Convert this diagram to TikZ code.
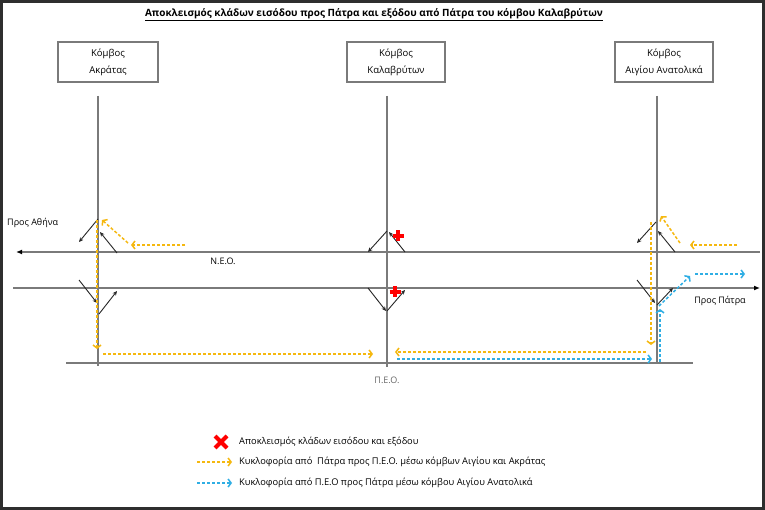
\documentclass[tikz,border=0pt]{standalone}
\usepackage{fontspec}
\setmainfont{Open Sans}
\usetikzlibrary{arrows.meta,calc}
\definecolor{roadc}{HTML}{7A7A7A}
\definecolor{ylw}{HTML}{F5B80F}
\definecolor{blu}{HTML}{2FAEE4}
\definecolor{framec}{HTML}{2E2E2E}
\begin{document}
\begin{tikzpicture}[x=1pt,y=-1pt,
  road/.style={draw=roadc, line width=1.4pt},
  ramp/.style={draw=black!85, line width=0.9pt, -{Stealth[length=4.5pt,width=4pt]}},
  ypath/.style={draw=ylw, line width=1.5pt, dash pattern=on 3pt off 2pt, -{Straight Barb[length=3pt,width=8pt,line width=1.5pt]}},
  bpath/.style={draw=blu, line width=1.5pt, dash pattern=on 3pt off 2pt, -{Straight Barb[length=3pt,width=8pt,line width=1.5pt]}},
  boxnode/.style={draw=roadc, line width=1.1pt, minimum width=100pt, minimum height=40pt, align=center, inner sep=0pt, font=\fontsize{9.5}{17}\selectfont},
  lbl/.style={font=\fontsize{9}{11}\selectfont, inner sep=0pt},
  legtext/.style={anchor=west, font=\fontsize{9.3}{11}\selectfont, inner sep=0pt},
  blockplus/.pic={\draw[red, line width=3.6pt] (-5.5,0)--(5.5,0) (0,-5.5)--(0,5.5);},
  blockx/.pic={\draw[red, line width=4pt] (-6,-6)--(6,6) (-6,6)--(6,-6);}
]
\useasboundingbox (0,0) rectangle (765,510);
\fill[white] (0,0) rectangle (765,510);
\draw[framec, line width=3pt] (1.5,1.5) rectangle (763.5,508.5);

% title
\node[inner sep=0pt, font=\fontsize{10}{12}\selectfont\bfseries] (title) at (374,15)
  {\underline{Αποκλεισμός κλάδων εισόδου προς Πάτρα και εξόδου από Πάτρα του κόμβου Καλαβρύτων}};

% junction boxes
\node[boxnode] (akr) at (108,62) {Κόμβος\\Ακράτας};
\node[boxnode, minimum width=98pt] (kal) at (396,62) {Κόμβος\\Καλαβρύτων};
\node[boxnode, minimum width=98pt] (aig) at (664,62) {Κόμβος\\Αιγίου Ανατολικά};

% road coordinates
\coordinate (akrT) at (98,96);  \coordinate (akrB) at (98,366);
\coordinate (kalT) at (387,96); \coordinate (kalB) at (387,367);
\coordinate (aigT) at (657,96); \coordinate (aigB) at (657,364);
\coordinate (neoE) at (760,252); \coordinate (neoW) at (16,252);
\coordinate (neo2W) at (13,288); \coordinate (neo2E) at (760,288);
\coordinate (peoW) at (66,363); \coordinate (peoE) at (693,363);

\draw[road] (akrT) -- (akrB);
\draw[road] (kalT) -- (kalB);
\draw[road] (aigT) -- (aigB);
\draw[road, -{Latex[length=6pt,width=5pt,color=black]}] (neoE) -- (neoW);
\draw[road, -{Latex[length=6pt,width=5pt,color=black]}] (neo2W) -- (neo2E);
\draw[road] (peoW) -- (peoE);

% labels
\node[lbl] (neo) at (223,261) {Ν.Ε.Ο.};
\node[lbl, text=black!60] (peo) at (387,380) {Π.Ε.Ο.};
\node[lbl, anchor=west] (athina) at (7,223) {Προς Αθήνα};
\node[lbl] (patra) at (720,301) {Προς Πάτρα};

% ramps Akratas
\draw[ramp] (98,219) -- (79,242);
\draw[ramp] (117,253) -- (100,232);
\draw[ramp] (79,280) -- (97,303);
\draw[ramp] (99,314) -- (117,291);
% ramps Kalavryta
\draw[ramp] (387,231) -- (368,252);
\draw[ramp] (405,252) -- (389,232);
\draw[ramp] (368,288) -- (386,311);
\draw[ramp] (387,311) -- (405,290);
% ramps Aigiou
\draw[ramp] (656,222) -- (637,243);
\draw[ramp] (675,252) -- (658,231);
\draw[ramp] (637,280) -- (655,303);
\draw[ramp] (657,305) -- (673,288);

% closures
\pic at (398,236) {blockplus};
\pic at (395,292) {blockplus};

% yellow route
\draw[ypath] (737,245) -- (690,245);
\draw[ypath] (680,243) -- (661,216);
\draw[ypath] (651,222) -- (651,345);
\draw[ypath] (646,352) -- (395,352);
\draw[ypath] (185,245) -- (131,245);
\draw[ypath] (128,243) -- (102,220);
\draw[ypath] (97,220) -- (97,349);
\draw[ypath] (103,354) -- (373,354);

% blue route
\draw[bpath] (397,359) -- (652,359);
\draw[bpath] (660,362) -- (660,309);
\draw[bpath] (659,306) -- (690,276);
\draw[bpath] (695,274) -- (745,274);

% legend
\pic at (221,442) {blockx};
\node[legtext] (leg1) at (239,442) {Αποκλεισμός κλάδων εισόδου και εξόδου};
\coordinate (ly1) at (197,462); \coordinate (ly2) at (232,462);
\draw[ypath] (ly1) -- (ly2);
\node[legtext] (leg2) at (239,462) {Κυκλοφορία από~ Πάτρα προς Π.Ε.Ο. μέσω κόμβων Αιγίου και Ακράτας};
\coordinate (lb1) at (197,483); \coordinate (lb2) at (232,483);
\draw[bpath] (lb1) -- (lb2);
\node[legtext] (leg3) at (239,483) {Κυκλοφορία από Π.Ε.Ο προς Πάτρα μέσω κόμβου Αιγίου Ανατολικά};
\end{tikzpicture}
\end{document}
